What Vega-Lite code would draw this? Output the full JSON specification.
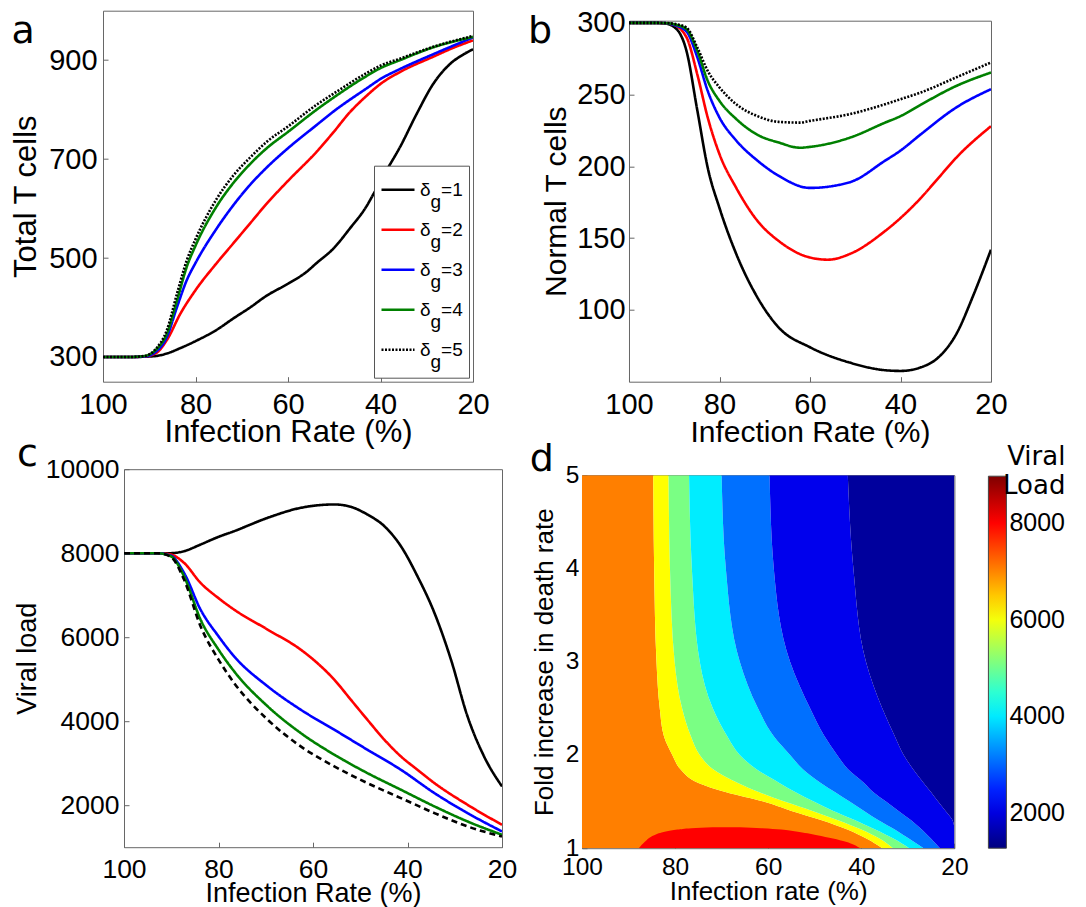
{
 "$schema": "https://vega.github.io/schema/vega-lite/v6.json",
 "padding": {"left": 0, "top": 7.7, "right": 0, "bottom": 0},
 "background": "white",
 "config": {
  "font": "Liberation Sans",
  "view": {"stroke": "#666", "strokeWidth": 1},
  "axis": {"grid": false, "domain": false, "ticks": true, "tickSize": -5, "tickColor": "#666", "labelColor": "black", "titleColor": "black", "titleFontWeight": "normal", "labelFont": "Liberation Sans", "titleFont": "Liberation Sans", "labelFlush": false, "labelOverlap": false},
  "title": {"font": "DejaVu Sans", "fontSize": 38, "fontWeight": "normal", "anchor": "start", "frame": "bounds", "baseline": "alphabetic", "color": "black"},
  "legend": {"labelFont": "Liberation Sans", "labelColor": "black", "titleColor": "black"}
 },
 "datasets": {
  "a": [
   {"dg":"1","x":100,"y":300},{"dg":"1","x":94,"y":300},{"dg":"1","x":91,"y":300.5},{"dg":"1","x":88.5,"y":302},{"dg":"1","x":86.2,"y":307},{"dg":"1","x":83,"y":319},{"dg":"1","x":80,"y":332},{"dg":"1","x":75.4,"y":355},{"dg":"1","x":71.8,"y":378},{"dg":"1","x":68.2,"y":400},{"dg":"1","x":64.6,"y":424},{"dg":"1","x":60,"y":448},{"dg":"1","x":56,"y":472},{"dg":"1","x":53.8,"y":490},{"dg":"1","x":50.2,"y":519},{"dg":"1","x":46.6,"y":560},{"dg":"1","x":43,"y":605},{"dg":"1","x":41.6,"y":628},{"dg":"1","x":38.7,"y":677},{"dg":"1","x":35.8,"y":724},{"dg":"1","x":32.2,"y":791},{"dg":"1","x":28.6,"y":852},{"dg":"1","x":25,"y":892},{"dg":"1","x":22,"y":912},{"dg":"1","x":20,"y":922},
   {"dg":"2","x":100,"y":300},{"dg":"2","x":94,"y":300},{"dg":"2","x":91,"y":301},{"dg":"2","x":88.5,"y":308},{"dg":"2","x":86.2,"y":334},{"dg":"2","x":83.3,"y":387},{"dg":"2","x":80,"y":435},{"dg":"2","x":75.4,"y":490},{"dg":"2","x":71.8,"y":530},{"dg":"2","x":68.2,"y":570},{"dg":"2","x":64.6,"y":610},{"dg":"2","x":60,"y":656},{"dg":"2","x":53.8,"y":715},{"dg":"2","x":50.2,"y":754},{"dg":"2","x":46.6,"y":795},{"dg":"2","x":43,"y":828},{"dg":"2","x":40,"y":852},{"dg":"2","x":35.8,"y":876},{"dg":"2","x":28.6,"y":907},{"dg":"2","x":24,"y":926},{"dg":"2","x":20,"y":940},
   {"dg":"3","x":100,"y":300},{"dg":"3","x":94,"y":300},{"dg":"3","x":91,"y":301},{"dg":"3","x":88.5,"y":311},{"dg":"3","x":86.2,"y":340},{"dg":"3","x":84,"y":401},{"dg":"3","x":81.9,"y":455},{"dg":"3","x":80,"y":490},{"dg":"3","x":75.4,"y":560},{"dg":"3","x":71.8,"y":607},{"dg":"3","x":68.2,"y":648},{"dg":"3","x":64.6,"y":683},{"dg":"3","x":60,"y":722},{"dg":"3","x":53.8,"y":769},{"dg":"3","x":50.2,"y":796},{"dg":"3","x":43,"y":843},{"dg":"3","x":40,"y":862},{"dg":"3","x":35.8,"y":882},{"dg":"3","x":28.6,"y":912},{"dg":"3","x":20,"y":946},
   {"dg":"4","x":100,"y":300},{"dg":"4","x":94,"y":300},{"dg":"4","x":91,"y":302},{"dg":"4","x":88.5,"y":315},{"dg":"4","x":86.2,"y":347},{"dg":"4","x":84,"y":414},{"dg":"4","x":81.9,"y":482},{"dg":"4","x":80,"y":525},{"dg":"4","x":75.4,"y":605},{"dg":"4","x":71.8,"y":652},{"dg":"4","x":68.2,"y":690},{"dg":"4","x":64.6,"y":722},{"dg":"4","x":60,"y":755},{"dg":"4","x":53.8,"y":800},{"dg":"4","x":50.2,"y":824},{"dg":"4","x":43,"y":868},{"dg":"4","x":40,"y":884},{"dg":"4","x":35.8,"y":900},{"dg":"4","x":28.6,"y":926},{"dg":"4","x":20,"y":947},
   {"dg":"5","x":100,"y":300},{"dg":"5","x":94,"y":300},{"dg":"5","x":91,"y":302},{"dg":"5","x":88.5,"y":317},{"dg":"5","x":86.2,"y":354},{"dg":"5","x":84,"y":428},{"dg":"5","x":81.9,"y":495},{"dg":"5","x":80,"y":538},{"dg":"5","x":75.4,"y":620},{"dg":"5","x":71.8,"y":667},{"dg":"5","x":68.2,"y":703},{"dg":"5","x":64.6,"y":735},{"dg":"5","x":60,"y":766},{"dg":"5","x":53.8,"y":810},{"dg":"5","x":50.2,"y":832},{"dg":"5","x":43,"y":874},{"dg":"5","x":40,"y":889},{"dg":"5","x":35.8,"y":903},{"dg":"5","x":28.6,"y":927},{"dg":"5","x":20,"y":949}
  ],
  "b": [
   {"dg":"1","x":100,"y":300},{"dg":"1","x":95,"y":300},{"dg":"1","x":92,"y":299.5},{"dg":"1","x":89.6,"y":296},{"dg":"1","x":87.3,"y":280.5},{"dg":"1","x":84.9,"y":239},{"dg":"1","x":82.6,"y":199},{"dg":"1","x":80,"y":171},{"dg":"1","x":76.3,"y":139},{"dg":"1","x":71.6,"y":108.6},{"dg":"1","x":66.9,"y":87.7},{"dg":"1","x":60,"y":74},{"dg":"1","x":51.2,"y":63.3},{"dg":"1","x":43.4,"y":58},{"dg":"1","x":40,"y":57.5},{"dg":"1","x":35.5,"y":60},{"dg":"1","x":31.6,"y":67},{"dg":"1","x":27.7,"y":83},{"dg":"1","x":23.8,"y":111},{"dg":"1","x":20,"y":142},
   {"dg":"2","x":100,"y":300},{"dg":"2","x":95,"y":300},{"dg":"2","x":92,"y":299.7},{"dg":"2","x":90.4,"y":299},{"dg":"2","x":87.3,"y":290},{"dg":"2","x":84.9,"y":264},{"dg":"2","x":82.6,"y":234},{"dg":"2","x":80,"y":208.5},{"dg":"2","x":76.3,"y":185},{"dg":"2","x":71.6,"y":162},{"dg":"2","x":66.9,"y":148},{"dg":"2","x":60,"y":136.5},{"dg":"2","x":56,"y":135},{"dg":"2","x":51.2,"y":139},{"dg":"2","x":43.4,"y":155},{"dg":"2","x":40,"y":164},{"dg":"2","x":35.5,"y":178},{"dg":"2","x":31.6,"y":192},{"dg":"2","x":27.7,"y":206},{"dg":"2","x":20,"y":228},
   {"dg":"3","x":100,"y":300},{"dg":"3","x":95,"y":300},{"dg":"3","x":92,"y":299.8},{"dg":"3","x":90,"y":298.5},{"dg":"3","x":87.3,"y":294},{"dg":"3","x":84.9,"y":276},{"dg":"3","x":82.6,"y":252.6},{"dg":"3","x":80,"y":234},{"dg":"3","x":76.3,"y":218},{"dg":"3","x":71.6,"y":204},{"dg":"3","x":66.9,"y":193.4},{"dg":"3","x":60,"y":185},{"dg":"3","x":51.2,"y":189},{"dg":"3","x":43.4,"y":204},{"dg":"3","x":40,"y":211},{"dg":"3","x":35.5,"y":222.4},{"dg":"3","x":27.7,"y":241},{"dg":"3","x":20,"y":253.8},
   {"dg":"4","x":100,"y":300},{"dg":"4","x":95,"y":300},{"dg":"4","x":92,"y":299.8},{"dg":"4","x":90,"y":299},{"dg":"4","x":87.3,"y":295.6},{"dg":"4","x":84.9,"y":280.5},{"dg":"4","x":82.6,"y":259.6},{"dg":"4","x":80,"y":245.6},{"dg":"4","x":76.3,"y":233},{"dg":"4","x":71.6,"y":222},{"dg":"4","x":66.9,"y":216.6},{"dg":"4","x":62.2,"y":213},{"dg":"4","x":60,"y":213.6},{"dg":"4","x":51.2,"y":220},{"dg":"4","x":43.4,"y":230.5},{"dg":"4","x":40,"y":235},{"dg":"4","x":35.5,"y":243},{"dg":"4","x":27.7,"y":256},{"dg":"4","x":20,"y":265.4},
   {"dg":"5","x":100,"y":300},{"dg":"5","x":95,"y":300},{"dg":"5","x":92,"y":299.9},{"dg":"5","x":90,"y":299.3},{"dg":"5","x":87.3,"y":296.7},{"dg":"5","x":84.9,"y":282.8},{"dg":"5","x":82.6,"y":266.5},{"dg":"5","x":80,"y":255},{"dg":"5","x":76.3,"y":243.3},{"dg":"5","x":71.6,"y":235},{"dg":"5","x":66.9,"y":231},{"dg":"5","x":62.2,"y":230.5},{"dg":"5","x":60,"y":231.7},{"dg":"5","x":51.2,"y":236.4},{"dg":"5","x":43.4,"y":243.3},{"dg":"5","x":40,"y":246.8},{"dg":"5","x":35.5,"y":251.5},{"dg":"5","x":27.7,"y":262},{"dg":"5","x":20,"y":272.4}
  ],
  "c": [
   {"dg":"1","x":100,"y":8000},{"dg":"1","x":93,"y":8000},{"dg":"1","x":90.1,"y":8000},{"dg":"1","x":87.3,"y":8048},{"dg":"1","x":83.8,"y":8206},{"dg":"1","x":80,"y":8389},{"dg":"1","x":76.7,"y":8524},{"dg":"1","x":69.6,"y":8842},{"dg":"1","x":62.6,"y":9080},{"dg":"1","x":55.5,"y":9160},{"dg":"1","x":52,"y":9104},{"dg":"1","x":48.5,"y":8921},{"dg":"1","x":44.9,"y":8643},{"dg":"1","x":41.4,"y":8167},{"dg":"1","x":37.9,"y":7452},{"dg":"1","x":34.3,"y":6578},{"dg":"1","x":30.8,"y":5466},{"dg":"1","x":27.3,"y":4115},{"dg":"1","x":23.8,"y":3162},{"dg":"1","x":20,"y":2447},
   {"dg":"2","x":100,"y":8000},{"dg":"2","x":93,"y":8000},{"dg":"2","x":90.1,"y":7968},{"dg":"2","x":87.3,"y":7770},{"dg":"2","x":83.8,"y":7293},{"dg":"2","x":80,"y":6930},{"dg":"2","x":76.7,"y":6657},{"dg":"2","x":69.6,"y":6181},{"dg":"2","x":62.6,"y":5704},{"dg":"2","x":59.1,"y":5386},{"dg":"2","x":55.5,"y":4989},{"dg":"2","x":52,"y":4512},{"dg":"2","x":48.5,"y":4036},{"dg":"2","x":44.9,"y":3559},{"dg":"2","x":41.4,"y":3162},{"dg":"2","x":37.9,"y":2844},{"dg":"2","x":34.3,"y":2526},{"dg":"2","x":27.3,"y":2010},{"dg":"2","x":20,"y":1533},
   {"dg":"3","x":100,"y":8000},{"dg":"3","x":93,"y":8000},{"dg":"3","x":90.1,"y":7944},{"dg":"3","x":87.3,"y":7531},{"dg":"3","x":83.8,"y":6657},{"dg":"3","x":80,"y":6022},{"dg":"3","x":76.7,"y":5545},{"dg":"3","x":69.6,"y":4830},{"dg":"3","x":62.6,"y":4274},{"dg":"3","x":55.5,"y":3797},{"dg":"3","x":48.5,"y":3321},{"dg":"3","x":41.4,"y":2844},{"dg":"3","x":34.3,"y":2288},{"dg":"3","x":27.3,"y":1812},{"dg":"3","x":20,"y":1375},
   {"dg":"4","x":100,"y":8000},{"dg":"4","x":93,"y":8000},{"dg":"4","x":90.1,"y":7928},{"dg":"4","x":87.3,"y":7452},{"dg":"4","x":83.8,"y":6419},{"dg":"4","x":80,"y":5704},{"dg":"4","x":76.7,"y":5188},{"dg":"4","x":69.6,"y":4354},{"dg":"4","x":62.6,"y":3718},{"dg":"4","x":55.5,"y":3202},{"dg":"4","x":48.5,"y":2765},{"dg":"4","x":41.4,"y":2368},{"dg":"4","x":34.3,"y":1971},{"dg":"4","x":27.3,"y":1613},{"dg":"4","x":20,"y":1295},
   {"dg":"5","x":100,"y":8000},{"dg":"5","x":93,"y":8000},{"dg":"5","x":90.1,"y":7913},{"dg":"5","x":87.3,"y":7372},{"dg":"5","x":83.8,"y":6260},{"dg":"5","x":80,"y":5466},{"dg":"5","x":76.7,"y":4910},{"dg":"5","x":69.6,"y":4036},{"dg":"5","x":62.6,"y":3400},{"dg":"5","x":55.5,"y":2924},{"dg":"5","x":48.5,"y":2527},{"dg":"5","x":41.4,"y":2169},{"dg":"5","x":34.3,"y":1812},{"dg":"5","x":27.3,"y":1494},{"dg":"5","x":20,"y":1255}
  ],
  "bands": [
   {"band":"O","level":7047,"y":1,"x":100,"x2":35.5},{"band":"O","level":7047,"y":1.1,"x":100,"x2":38.8},{"band":"O","level":7047,"y":1.2,"x":100,"x2":43},{"band":"O","level":7047,"y":1.3,"x":100,"x2":48.5},{"band":"O","level":7047,"y":1.4,"x":100,"x2":55},{"band":"O","level":7047,"y":1.5,"x":100,"x2":61},{"band":"O","level":7047,"y":1.6,"x":100,"x2":69},{"band":"O","level":7047,"y":1.7,"x":100,"x2":75},{"band":"O","level":7047,"y":1.85,"x":100,"x2":78.9},{"band":"O","level":7047,"y":2,"x":100,"x2":80.6},{"band":"O","level":7047,"y":2.2,"x":100,"x2":82.4},{"band":"O","level":7047,"y":2.5,"x":100,"x2":83.3},{"band":"O","level":7047,"y":3,"x":100,"x2":84},{"band":"O","level":7047,"y":4,"x":100,"x2":84.5},{"band":"O","level":7047,"y":5,"x":100,"x2":84.7},
   {"band":"Y","level":6085,"y":1,"x":35.5,"x2":33.2},{"band":"Y","level":6085,"y":1.1,"x":38.8,"x2":36},{"band":"Y","level":6085,"y":1.2,"x":43,"x2":40},{"band":"Y","level":6085,"y":1.3,"x":48.5,"x2":45},{"band":"Y","level":6085,"y":1.4,"x":55,"x2":50.5},{"band":"Y","level":6085,"y":1.5,"x":61,"x2":56.5},{"band":"Y","level":6085,"y":1.6,"x":69,"x2":61.9},{"band":"Y","level":6085,"y":1.7,"x":75,"x2":66.5},{"band":"Y","level":6085,"y":1.85,"x":78.9,"x2":71.9},{"band":"Y","level":6085,"y":2,"x":80.6,"x2":74.7},{"band":"Y","level":6085,"y":2.2,"x":82.4,"x2":76.6},{"band":"Y","level":6085,"y":2.5,"x":83.3,"x2":78.5},{"band":"Y","level":6085,"y":3,"x":84,"x2":80.1},{"band":"Y","level":6085,"y":4,"x":84.5,"x2":81.1},{"band":"Y","level":6085,"y":5,"x":84.7,"x2":81.4},
   {"band":"G","level":5085,"y":1,"x":33.2,"x2":29.7},{"band":"G","level":5085,"y":1.1,"x":36,"x2":33},{"band":"G","level":5085,"y":1.2,"x":40,"x2":37},{"band":"G","level":5085,"y":1.3,"x":45,"x2":41.3},{"band":"G","level":5085,"y":1.4,"x":50.5,"x2":46},{"band":"G","level":5085,"y":1.5,"x":56.5,"x2":50.2},{"band":"G","level":5085,"y":1.6,"x":61.9,"x2":54.1},{"band":"G","level":5085,"y":1.7,"x":66.5,"x2":57.6},{"band":"G","level":5085,"y":1.85,"x":71.9,"x2":62.6},{"band":"G","level":5085,"y":2,"x":74.7,"x2":66.1},{"band":"G","level":5085,"y":2.2,"x":76.6,"x2":68.8},{"band":"G","level":5085,"y":2.5,"x":78.5,"x2":71.9},{"band":"G","level":5085,"y":3,"x":80.1,"x2":74.7},{"band":"G","level":5085,"y":4,"x":81.1,"x2":76.4},{"band":"G","level":5085,"y":5,"x":81.4,"x2":77},
   {"band":"C","level":4027,"y":1,"x":29.7,"x2":26.6},{"band":"C","level":4027,"y":1.1,"x":33,"x2":29.7},{"band":"C","level":4027,"y":1.2,"x":37,"x2":32.8},{"band":"C","level":4027,"y":1.3,"x":41.3,"x2":36.3},{"band":"C","level":4027,"y":1.4,"x":46,"x2":39.4},{"band":"C","level":4027,"y":1.5,"x":50.2,"x2":42.5},{"band":"C","level":4027,"y":1.6,"x":54.1,"x2":45.6},{"band":"C","level":4027,"y":1.7,"x":57.6,"x2":48.7},{"band":"C","level":4027,"y":1.85,"x":62.6,"x2":52.6},{"band":"C","level":4027,"y":2,"x":66.1,"x2":55.3},{"band":"C","level":4027,"y":2.2,"x":68.8,"x2":58.8},{"band":"C","level":4027,"y":2.5,"x":71.9,"x2":62.2},{"band":"C","level":4027,"y":3,"x":74.7,"x2":66.1},{"band":"C","level":4027,"y":4,"x":76.4,"x2":69.1},{"band":"C","level":4027,"y":5,"x":77,"x2":70},
   {"band":"L","level":3084,"y":1,"x":26.6,"x2":23.1},{"band":"L","level":3084,"y":1.1,"x":29.7,"x2":25},{"band":"L","level":3084,"y":1.2,"x":32.8,"x2":27},{"band":"L","level":3084,"y":1.3,"x":36.3,"x2":29.3},{"band":"L","level":3084,"y":1.4,"x":39.4,"x2":32},{"band":"L","level":3084,"y":1.5,"x":42.5,"x2":34.7},{"band":"L","level":3084,"y":1.6,"x":45.6,"x2":37.4},{"band":"L","level":3084,"y":1.7,"x":48.7,"x2":39.4},{"band":"L","level":3084,"y":1.85,"x":52.6,"x2":42.9},{"band":"L","level":3084,"y":2,"x":55.3,"x2":45.2},{"band":"L","level":3084,"y":2.2,"x":58.8,"x2":47.9},{"band":"L","level":3084,"y":2.5,"x":62.2,"x2":51},{"band":"L","level":3084,"y":3,"x":66.1,"x2":55.3},{"band":"L","level":3084,"y":4,"x":69.1,"x2":58.8},{"band":"L","level":3084,"y":5,"x":70,"x2":59.7},
   {"band":"B","level":2100,"y":1,"x":23.1,"x2":20},{"band":"B","level":2100,"y":1.1,"x":25,"x2":20},{"band":"B","level":2100,"y":1.2,"x":27,"x2":20},{"band":"B","level":2100,"y":1.3,"x":29.3,"x2":20.4},{"band":"B","level":2100,"y":1.4,"x":32,"x2":21.9},{"band":"B","level":2100,"y":1.5,"x":34.7,"x2":23.5},{"band":"B","level":2100,"y":1.6,"x":37.4,"x2":25},{"band":"B","level":2100,"y":1.7,"x":39.4,"x2":26.6},{"band":"B","level":2100,"y":1.85,"x":42.9,"x2":28.9},{"band":"B","level":2100,"y":2,"x":45.2,"x2":30.9},{"band":"B","level":2100,"y":2.2,"x":47.9,"x2":32.8},{"band":"B","level":2100,"y":2.5,"x":51,"x2":35.5},{"band":"B","level":2100,"y":3,"x":55.3,"x2":39},{"band":"B","level":2100,"y":4,"x":58.8,"x2":41.7},{"band":"B","level":2100,"y":5,"x":59.7,"x2":42.9},
   {"band":"N","level":1500,"y":1,"x":20,"x2":20},{"band":"N","level":1500,"y":1.1,"x":20,"x2":20},{"band":"N","level":1500,"y":1.2,"x":20,"x2":20},{"band":"N","level":1500,"y":1.3,"x":20.4,"x2":20},{"band":"N","level":1500,"y":1.4,"x":21.9,"x2":20},{"band":"N","level":1500,"y":1.5,"x":23.5,"x2":20},{"band":"N","level":1500,"y":1.6,"x":25,"x2":20},{"band":"N","level":1500,"y":1.7,"x":26.6,"x2":20},{"band":"N","level":1500,"y":1.85,"x":28.9,"x2":20},{"band":"N","level":1500,"y":2,"x":30.9,"x2":20},{"band":"N","level":1500,"y":2.2,"x":32.8,"x2":20},{"band":"N","level":1500,"y":2.5,"x":35.5,"x2":20},{"band":"N","level":1500,"y":3,"x":39,"x2":20},{"band":"N","level":1500,"y":4,"x":41.7,"x2":20},{"band":"N","level":1500,"y":5,"x":42.9,"x2":20}
  ],
  "red": [
   {"band":"R","level":8008,"y":1,"x":87.8,"x2":40.2},{"band":"R","level":8008,"y":1.07,"x":86.5,"x2":43.3},{"band":"R","level":8008,"y":1.14,"x":84.5,"x2":49.5},{"band":"R","level":8008,"y":1.18,"x":82,"x2":54},{"band":"R","level":8008,"y":1.2,"x":79.5,"x2":57.2},{"band":"R","level":8008,"y":1.215,"x":76.5,"x2":61.5},{"band":"R","level":8008,"y":1.225,"x":72,"x2":66}
  ]
 },
 "resolve": {"scale": {"color": "independent", "strokeDash": "independent"}, "legend": {"color": "independent", "strokeDash": "independent"}},
 "spacing": -13.5,
 "vconcat": [
  {
   "bounds": "flush", "spacing": 0,
   "resolve": {"scale": {"color": "independent", "strokeDash": "independent"}, "legend": {"color": "independent", "strokeDash": "independent"}},
   "hconcat": [
    {"width": 103, "height": 1, "view": {"stroke": null}, "data": {"values": []}, "mark": "point"},
    {
     "width": 370, "height": 371,
     "title": {"text": "a", "offset": -40, "dx": 1},
     "data": {"name": "a"},
     "mark": {"type": "line", "strokeWidth": 2.6, "interpolate": "monotone", "clip": true},
     "encoding": {
      "x": {"field": "x", "type": "quantitative", "scale": {"domain": [20, 100], "reverse": true, "nice": false, "zero": false}, "axis": {"values": [100, 80, 60, 40, 20], "title": "Infection Rate (%)", "labelFontSize": 29, "titleFontSize": 31, "labelPadding": 14, "titlePadding": -2}},
      "y": {"field": "y", "type": "quantitative", "scale": {"domain": [250, 1000], "nice": false, "zero": false}, "axis": {"values": [300, 500, 700, 900], "title": "Total T cells", "labelFontSize": 29, "titleFontSize": 31, "labelPadding": 11, "titlePadding": 6}},
      "color": {"field": "dg", "type": "nominal", "scale": {"domain": ["1", "2", "3", "4", "5"], "range": ["#000000", "#ff0000", "#0000ff", "#008000", "#000000"]},
       "legend": {"orient": "bottom-right", "offset": 4, "title": null, "labelExpr": "['δ\u00a0\u00a0=' + datum.label + '\u00a0', '\u200b\u00a0\u00a0g']", "labelFontSize": 19, "labelBaseline": "middle", "symbolType": "stroke", "symbolSize": 1089, "symbolStrokeWidth": 2.6, "strokeColor": "#555", "fillColor": "white", "padding": 6, "rowPadding": 0, "labelOffset": 4, "encode": {"labels": {"update": {"lineHeight": {"value": 12}}}}}},
      "strokeDash": {"field": "dg", "type": "nominal", "scale": {"domain": ["1", "2", "3", "4", "5"], "range": [[1, 0], [1, 0], [1, 0], [1, 0], [2, 1.5]]},
       "legend": {"orient": "bottom-right", "offset": 4, "title": null, "labelExpr": "['δ\u00a0\u00a0=' + datum.label + '\u00a0', '\u200b\u00a0\u00a0g']", "labelFontSize": 19, "labelBaseline": "middle", "symbolType": "stroke", "symbolSize": 1089, "symbolStrokeWidth": 2.6, "strokeColor": "#555", "fillColor": "white", "padding": 6, "rowPadding": 0, "labelOffset": 4, "encode": {"labels": {"update": {"lineHeight": {"value": 12}}}}}}
     }
    },
    {"width": 155.6, "height": 1, "view": {"stroke": null}, "data": {"values": []}, "mark": "point"},
    {
     "bounds": "flush", "spacing": 0,
     "resolve": {"scale": {"color": "independent", "strokeDash": "independent"}, "legend": {"color": "independent", "strokeDash": "independent"}},
     "vconcat": [
      {"width": 1, "height": 10, "view": {"stroke": null}, "data": {"values": []}, "mark": "point"},
      {
       "width": 362, "height": 361,
       "title": {"text": "b", "offset": -42.3, "dx": -13.6},
       "data": {"name": "b"},
       "mark": {"type": "line", "strokeWidth": 2.6, "interpolate": "monotone", "clip": true},
       "encoding": {
        "x": {"field": "x", "type": "quantitative", "scale": {"domain": [20, 100], "reverse": true, "nice": false, "zero": false}, "axis": {"values": [100, 80, 60, 40, 20], "title": "Infection Rate (%)", "labelFontSize": 29, "titleFontSize": 30, "labelPadding": 14, "titlePadding": -2}},
        "y": {"field": "y", "type": "quantitative", "scale": {"domain": [50, 301.5], "nice": false, "zero": false}, "axis": {"values": [100, 150, 200, 250, 300], "title": "Normal T cells", "labelFontSize": 29, "titleFontSize": 30, "labelPadding": 9, "titlePadding": 5}},
        "color": {"field": "dg", "type": "nominal", "scale": {"domain": ["1", "2", "3", "4", "5"], "range": ["#000000", "#ff0000", "#0000ff", "#008000", "#000000"]}, "legend": null},
        "strokeDash": {"field": "dg", "type": "nominal", "scale": {"domain": ["1", "2", "3", "4", "5"], "range": [[1, 0], [1, 0], [1, 0], [1, 0], [2, 1.5]]}, "legend": null}
       }
      }
     ]
    }
   ]
  },
  {
   "bounds": "flush", "spacing": 0,
   "resolve": {"scale": {"color": "independent", "strokeDash": "independent"}, "legend": {"color": "independent", "strokeDash": "independent"}},
   "hconcat": [
    {"width": 123.3, "height": 1, "view": {"stroke": null}, "data": {"values": []}, "mark": "point"},
    {
     "width": 378, "height": 378,
     "title": {"text": "c", "offset": -18, "dx": 3.7},
     "data": {"name": "c"},
     "mark": {"type": "line", "strokeWidth": 2.6, "interpolate": "monotone", "clip": true},
     "encoding": {
      "x": {"field": "x", "type": "quantitative", "scale": {"domain": [20, 100], "reverse": true, "nice": false, "zero": false}, "axis": {"values": [100, 80, 60, 40, 20], "title": "Infection Rate (%)", "labelFontSize": 26.5, "titleFontSize": 27, "labelPadding": 14, "titlePadding": -2}},
      "y": {"field": "y", "type": "quantitative", "scale": {"domain": [1000, 10000], "nice": false, "zero": false}, "axis": {"values": [2000, 4000, 6000, 8000, 10000], "format": "d", "title": "Viral load", "labelFontSize": 26.5, "titleFontSize": 27, "labelPadding": 10, "titlePadding": 4}},
      "color": {"field": "dg", "type": "nominal", "scale": {"domain": ["1", "2", "3", "4", "5"], "range": ["#000000", "#ff0000", "#0000ff", "#008000", "#000000"]}, "legend": null},
      "strokeDash": {"field": "dg", "type": "nominal", "scale": {"domain": ["1", "2", "3", "4", "5"], "range": [[1, 0], [1, 0], [1, 0], [1, 0], [6, 4]]}, "legend": null}
     }
    },
    {"width": 79.3, "height": 1, "view": {"stroke": null}, "data": {"values": []}, "mark": "point"},
    {
     "bounds": "flush", "spacing": 0,
     "resolve": {"scale": {"color": "independent", "strokeDash": "independent"}, "legend": {"color": "independent", "strokeDash": "independent"}},
     "vconcat": [
      {"width": 1, "height": 5.7, "view": {"stroke": null}, "data": {"values": []}, "mark": "point"},
      {
       "width": 372.4, "height": 373,
       "title": {"text": "d", "offset": -35.5, "dx": -1.7},
       "encoding": {
        "y": {"field": "y", "type": "quantitative", "scale": {"domain": [1, 5], "nice": false, "zero": false}, "axis": {"values": [1, 2, 3, 4, 5], "title": "Fold increase in death rate", "labelFontSize": 24.5, "titleFontSize": 26, "labelPadding": 8, "titlePadding": 8}},
        "x": {"field": "x", "type": "quantitative", "stack": null, "scale": {"domain": [20, 100], "reverse": true, "nice": false, "zero": false}, "axis": {"values": [100, 80, 60, 40, 20], "title": "Infection rate (%)", "labelFontSize": 24.5, "titleFontSize": 26, "labelPadding": 12, "titlePadding": 0}},
        "x2": {"field": "x2"},
        "detail": {"field": "band", "type": "nominal"},
        "color": {"field": "level", "type": "quantitative",
         "scale": {"type": "linear", "domain": [1276, 8970], "range": ["#00007F", "#0000FF", "#007FFF", "#00FFFF", "#7FFF7F", "#FFFF00", "#FF7F00", "#FF0000", "#7F0000"], "interpolate": "rgb", "nice": false, "zero": false},
         "legend": {"orient": "none", "legendX": 406.4, "legendY": -31.5, "direction": "vertical", "gradientLength": 372, "gradientThickness": 18, "title": ["Viral", "Load"], "titleFont": "DejaVu Sans", "titleFontSize": 26, "titleFontWeight": "normal", "titleAnchor": "end", "titleAlign": "right", "titleLineHeight": 29, "titlePadding": -22.5, "titleBaseline": "top", "labelFontSize": 25, "labelOffset": 3, "values": [2000, 4000, 6000, 8000], "format": "d", "labelOverlap": false, "gradientStrokeColor": "#444", "gradientStrokeWidth": 1}}
       },
       "layer": [
        {"data": {"name": "bands"}, "mark": {"type": "area", "orient": "horizontal", "interpolate": "monotone", "clip": true}},
        {"data": {"name": "red"}, "mark": {"type": "area", "orient": "horizontal", "interpolate": "monotone", "clip": true}}
       ]
      }
     ]
    }
   ]
  }
 ]
}
